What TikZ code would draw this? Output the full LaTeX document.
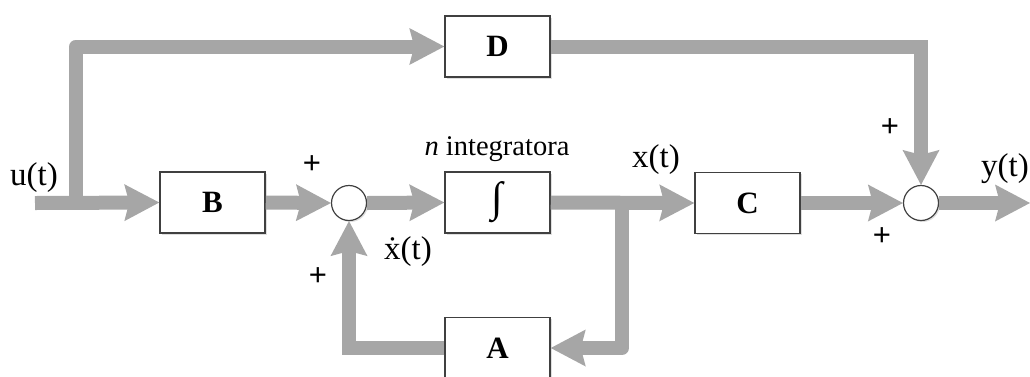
\documentclass[tikz,border=0pt]{standalone}
\usepackage{fontspec}
\setmainfont{Liberation Serif}
\newfontfamily\plusfont{Liberation Sans}
\usetikzlibrary{arrows.meta,shadows}
\definecolor{sigcol}{HTML}{A6A6A6}
\definecolor{framecol}{HTML}{404040}
\begin{document}
\begin{tikzpicture}[x=1pt,y=-1pt,
  block/.style={draw=framecol, line width=1.5pt, fill=white, minimum width=105pt, minimum height=61pt, inner sep=0pt,
    font=\fontsize{31}{31}\selectfont\bfseries,
    drop shadow={shadow xshift=1.5pt, shadow yshift=-1.5pt, opacity=0.25}},
  sumnode/.style={circle, draw=framecol, line width=1.2pt, fill=white, minimum size=35pt, inner sep=0pt,
    drop shadow={shadow xshift=1.5pt, shadow yshift=-1.5pt, opacity=0.25}},
  sigline/.style={draw=sigcol, line width=14pt},
  sigarrow/.style={sigline, -{Stealth[length=35pt,width=37pt,inset=5pt,line width=0pt]}},
  lbl/.style={font=\fontsize{33}{33}\selectfont, inner sep=0pt},
  plus/.style={font=\plusfont\fontsize{31}{31}\selectfont, inner sep=0pt}]
\useasboundingbox (0,0) rectangle (1030,376);
\node[block] (B) at (212.5,202.5) {B};
\node[block] (I) at (497.5,202.5) {\mdseries\fontsize{42}{42}\selectfont ∫};
\node[block] (C) at (747.5,203) {C};
\node[block] (D) at (497.5,46.5) {D};
\node[block] (A) at (497.5,348) {A};
\node[sumnode] (S1) at (349,203) {};
\node[sumnode] (S2) at (921,203) {};
\coordinate (in) at (35,203);
\coordinate (out) at (1030,203);
\coordinate (jU) at (76,203);
\coordinate (jX) at (622,203);
\draw[sigarrow] (in) -- (B.west);
\draw[sigarrow, line join=round] (jU) |- (D.west);
\draw[sigarrow] (B.east) -- (S1.west);
\draw[sigarrow] (S1.east) -- (I.west);
\draw[sigarrow] (I.east) -- (C.west);
\draw[sigarrow, line join=round] (jX) |- (A.east);
\draw[sigarrow] (A.west) -| (S1.south);
\draw[sigarrow] (C.east) -- (S2.west);
\draw[sigarrow] (D.east) -| (S2.north);
\draw[sigarrow] (S2.east) -- (out);
\node[lbl] (u) at (34,178) {u(t)};
\node[lbl] (x) at (656,160) {x(t)};
\node[lbl] (y) at (1005,169) {y(t)};
\node[lbl] (xd) at (408,252) {\.{x}(t)};
\node[font=\fontsize{28.5}{28.5}\selectfont, inner sep=0pt] (n) at (497,149) {\textit{n} integratora};
\node[plus] (p1) at (312,165) {+};
\node[plus] (p2) at (318,277) {+};
\node[plus] (p3) at (890,128) {+};
\node[plus] (p4) at (882,237) {+};
\end{tikzpicture}
\end{document}
